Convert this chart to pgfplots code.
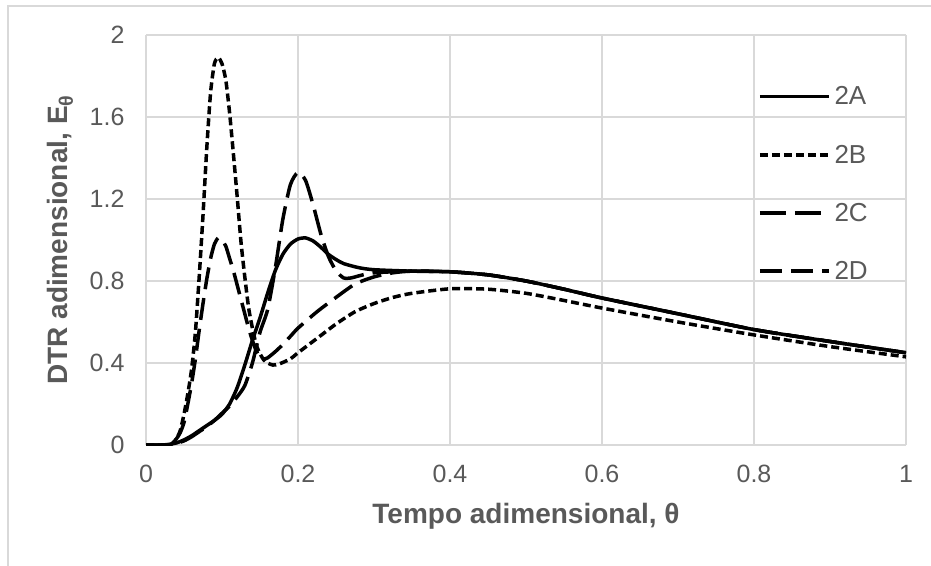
\documentclass[border=0pt]{standalone}
\usepackage{fontspec}
\setmainfont{Liberation Sans}
\usepackage{pgfplots}
\pgfplotsset{compat=1.18}
\usepackage{pgfplotstable}

\definecolor{txtgray}{HTML}{595959}
\definecolor{gridgray}{HTML}{D9D9D9}

% 2A - solid
\pgfplotstableread{
t E
0 0
0.02 0
0.03 0.003
0.04 0.01
0.05 0.025
0.06 0.045
0.07 0.07
0.08 0.095
0.09 0.12
0.1 0.15
0.11 0.20
0.12 0.28
0.13 0.39
0.14 0.51
0.15 0.62
0.16 0.74
0.17 0.85
0.18 0.93
0.19 0.98
0.2 1.005
0.21 1.01
0.22 0.995
0.23 0.965
0.24 0.93
0.25 0.905
0.26 0.885
0.28 0.865
0.3 0.855
0.35 0.848
0.4 0.845
0.45 0.83
0.5 0.80
0.55 0.76
0.6 0.717
0.7 0.64
0.8 0.563
0.9 0.505
1.0 0.45
}\dataA

% 2B - short dash
\pgfplotstableread{
t E
0 0
0.03 0
0.035 0.01
0.04 0.03
0.045 0.07
0.05 0.15
0.055 0.25
0.06 0.37
0.065 0.55
0.07 0.82
0.075 1.12
0.08 1.45
0.085 1.72
0.09 1.86
0.095 1.89
0.1 1.86
0.105 1.78
0.11 1.62
0.115 1.42
0.12 1.21
0.125 0.99
0.13 0.82
0.135 0.67
0.14 0.57
0.145 0.49
0.15 0.445
0.155 0.415
0.16 0.40
0.167 0.39
0.175 0.395
0.19 0.42
0.2 0.45
0.225 0.52
0.25 0.59
0.275 0.65
0.3 0.69
0.325 0.72
0.35 0.74
0.4 0.762
0.45 0.76
0.5 0.74
0.55 0.705
0.6 0.668
0.7 0.60
0.8 0.537
0.9 0.48
1.0 0.43
}\dataB

% 2C - long dash, peak at 0.2
\pgfplotstableread{
t E
0 0
0.03 0
0.04 0.008
0.05 0.02
0.06 0.04
0.07 0.065
0.08 0.09
0.09 0.12
0.1 0.155
0.11 0.19
0.12 0.235
0.13 0.29
0.14 0.40
0.15 0.55
0.16 0.66
0.17 0.86
0.18 1.10
0.19 1.27
0.2 1.33
0.21 1.29
0.22 1.17
0.23 1.03
0.24 0.92
0.25 0.85
0.26 0.815
0.27 0.815
0.28 0.825
0.3 0.84
0.35 0.848
0.4 0.845
0.45 0.83
0.5 0.80
0.55 0.76
0.6 0.717
0.7 0.64
0.8 0.563
0.9 0.505
1.0 0.45
}\dataC

% 2D - long dash, peak at 0.1
\pgfplotstableread{
t E
0 0
0.03 0
0.035 0.01
0.04 0.03
0.045 0.06
0.05 0.11
0.055 0.2
0.06 0.3
0.065 0.42
0.07 0.56
0.075 0.69
0.08 0.81
0.085 0.91
0.09 0.98
0.095 1.01
0.1 1.0
0.105 0.97
0.11 0.91
0.115 0.85
0.12 0.78
0.125 0.71
0.13 0.64
0.135 0.57
0.14 0.51
0.145 0.46
0.15 0.43
0.155 0.42
0.16 0.425
0.17 0.455
0.18 0.49
0.19 0.53
0.2 0.57
0.225 0.65
0.25 0.72
0.275 0.785
0.3 0.82
0.325 0.84
0.35 0.848
0.4 0.845
0.45 0.83
0.5 0.80
0.55 0.76
0.6 0.717
0.7 0.64
0.8 0.563
0.9 0.505
1.0 0.45
}\dataD

\begin{document}
\begin{tikzpicture}[x=1pt,y=1pt]
\path[use as bounding box] (0,0) rectangle (931,565);
\draw[gridgray, line width=1.5pt] (8,-5) -- (8,559) -- (940,559);
\begin{axis}[
  at={(146pt,120pt)}, anchor=south west,
  scale only axis, width=760pt, height=410pt,
  xmin=0, xmax=1, ymin=0, ymax=2,
  xtick={0,0.2,0.4,0.6,0.8,1},
  ytick={0,0.4,0.8,1.2,1.6,2},
  grid=major,
  major grid style={gridgray, line width=1.2pt},
  axis x line*=bottom, axis y line*=left,
  axis line style={gridgray, line width=1.5pt},
  major tick length=0pt,
  /pgf/number format/assume math mode=true,
  tick label style={font=\fontsize{25}{30}\selectfont, text=txtgray},
  xticklabel style={yshift=-17pt},
  yticklabel style={xshift=-18pt},
  xlabel={\textbf{Tempo adimensional, θ}},
  ylabel={\textbf{DTR adimensional, E\textsubscript{θ}}},
  every axis x label/.style={at={(axis description cs:0.5,-0.173)}, anchor=center,
    font=\fontsize{28}{32}\selectfont, text=txtgray},
  every axis y label/.style={at={(axis description cs:-0.113,0.5)}, rotate=90, anchor=center,
    font=\fontsize{28}{32}\selectfont, text=txtgray},
  legend style={draw=none, fill=none, at={(axis cs:0.805,1.758)}, anchor=north west,
    font=\fontsize{26}{30}\selectfont, text=txtgray, row sep=34.5pt, inner sep=0pt},
  legend cell align=left,
  legend image code/.code={\draw[#1, line width=3.5pt] (0pt,0pt) -- (69pt,0pt);},
  /tikz/every odd column/.append style={column sep=2pt},
  every axis plot/.append style={black, line width=3.5pt},
]
\addplot[smooth, tension=0.4] table[x=t, y=E] {\dataA};
\addlegendentry{2A}
\addplot[smooth, tension=0.4, dash pattern=on 8pt off 4pt] table[x=t, y=E] {\dataB};
\addlegendentry{2B}
\addplot[smooth, tension=0.4, dash pattern=on 26pt off 9pt] table[x=t, y=E] {\dataC};
\addlegendentry{2C}
\addplot[smooth, tension=0.4, dash pattern=on 22pt off 9pt] table[x=t, y=E] {\dataD};
\addlegendentry{2D}
\end{axis}
\end{tikzpicture}
\end{document}
